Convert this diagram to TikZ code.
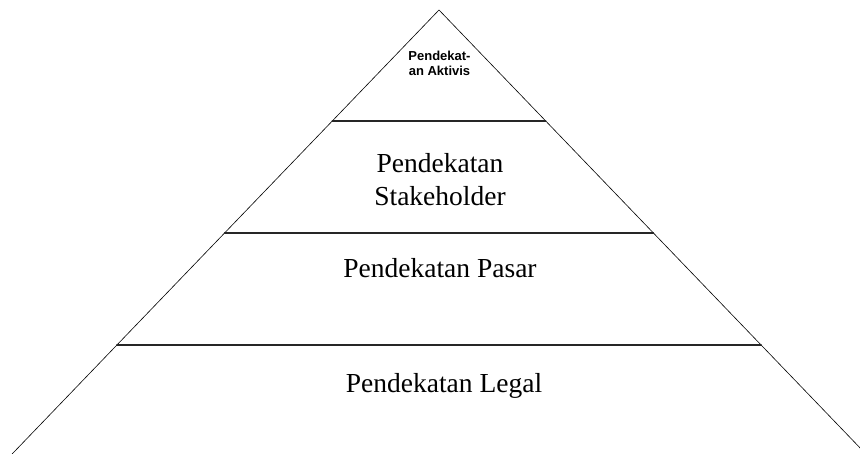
\documentclass[tikz,border=0pt]{standalone}
\usepackage{fontspec}
\setmainfont{Liberation Serif}
\newfontfamily\arialfont{Liberation Sans}
\usetikzlibrary{calc}

\begin{document}
\begin{tikzpicture}[x=1pt, y=-1pt, line cap=round, line join=round]

% ----------------------------
% PARAMETERS
% ----------------------------
\def\Ax{439}      % apex x
\def\Ay{10}       % apex y
\def\s{0.9615}    % half-width growth per unit of height
\def\Hb{444}      % height down to the base

\useasboundingbox (0,0) rectangle (860,454);
\clip (0,0) rectangle (860,454);

\tikzset{
  side/.style={line width=0.6pt, black},
  level/.style={line width=1.4pt, black!85},
  bigtext/.style={font=\fontsize{27.5}{33}\selectfont, align=center, inner sep=0pt},
  smalltext/.style={font=\arialfont\bfseries\fontsize{13}{14.5}\selectfont, align=center, inner sep=0pt}
}

\coordinate (top) at (\Ax,\Ay);
\coordinate (baseL) at ({\Ax-\s*\Hb},{\Ay+\Hb});
\coordinate (baseR) at ({\Ax+\s*\Hb},{\Ay+\Hb});

% ----------------------------
% SIDES OF THE PYRAMID
% ----------------------------
\draw[side] (baseL) -- (top) -- (baseR);

% ----------------------------
% LEVEL LINES (y of each cut)
% ----------------------------
\foreach \yy/\nm in {121/one, 233/two, 345/three}{
  \coordinate (\nm L) at ({\Ax-\s*(\yy-\Ay)},\yy);
  \coordinate (\nm R) at ({\Ax+\s*(\yy-\Ay)},\yy);
  \draw[level] (\nm L) -- (\nm R);
}

% ----------------------------
% LABELS
% ----------------------------
\node[smalltext, anchor=base] (aktivis) at (439.5,75.5) {Pendekat-\\an Aktivis};
\node[bigtext] (stake) at (440,180) {Pendekatan\\Stakeholder};
\node[bigtext, anchor=base] (pasar) at (440,278) {Pendekatan Pasar};
\node[bigtext, anchor=base] (legal) at (444,392) {Pendekatan Legal};

\end{tikzpicture}
\end{document}
